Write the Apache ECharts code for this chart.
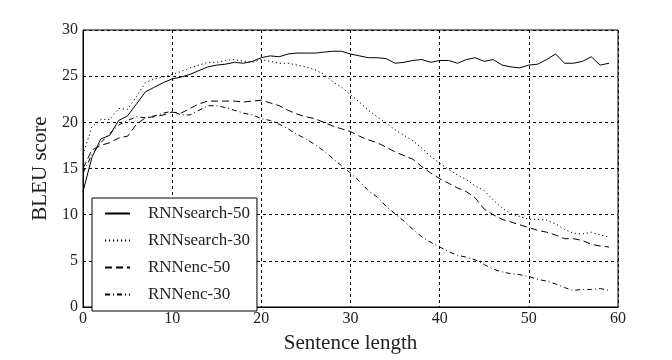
<!DOCTYPE html>
<html>
<head>
<meta charset="utf-8">
<script src="https://cdn.jsdelivr.net/npm/echarts@6/dist/echarts.min.js"></script>
<style>html,body{margin:0;padding:0;background:#fff;}#c{width:672px;height:360px;}</style>
</head>
<body>
<div id="c"></div>
<script>
const lengths = [0,1,2,3,4,5,6,7,8,9,10,11,12,13,14,15,16,17,18,19,20,21,22,23,24,25,26,27,28,29,30,31,32,33,34,35,36,37,38,39,40,41,42,43,44,45,46,47,48,49,50,51,52,53,54,55,56,57,58,59];
const seriesNames = ['RNNsearch-50','RNNsearch-30','RNNenc-50','RNNenc-30'];
const rnnsearch50 = [12.5,16.2,18.2,18.6,20.2,20.7,22.0,23.3,23.8,24.3,24.7,24.9,25.2,25.6,26.0,26.2,26.3,26.5,26.4,26.6,27.0,27.2,27.1,27.4,27.5,27.5,27.5,27.6,27.7,27.7,27.4,27.2,27.0,27.0,26.9,26.4,26.5,26.7,26.8,26.5,26.7,26.7,26.4,26.8,27.0,26.6,26.8,26.2,26.0,25.9,26.2,26.3,26.8,27.4,26.4,26.4,26.6,27.1,26.2,26.4];
const rnnsearch30 = [16.5,19.5,20.3,20.3,21.5,21.4,22.8,24.3,24.7,24.9,25.2,25.5,25.9,26.2,26.5,26.5,26.7,26.8,26.6,26.5,26.8,26.6,26.4,26.4,26.2,26.0,25.7,25.2,24.4,23.8,23.0,22.2,21.3,20.6,19.9,19.2,18.6,18.0,17.2,16.3,15.6,14.9,14.3,13.8,13.1,12.6,11.6,10.7,10.1,9.8,9.5,9.5,9.4,9.0,8.4,8.0,7.9,8.1,7.8,7.6];
const rnnenc50 = [15.0,17.0,17.5,17.8,18.3,18.5,19.8,20.5,20.6,20.8,21.1,21.0,21.5,22.0,22.3,22.3,22.3,22.3,22.2,22.3,22.4,22.1,21.8,21.3,20.9,20.6,20.4,20.0,19.6,19.3,19.0,18.5,18.1,17.8,17.3,16.8,16.4,16.0,15.2,14.5,13.9,13.4,12.9,12.5,11.8,10.6,10.0,9.5,9.2,8.9,8.6,8.3,8.1,7.8,7.4,7.4,7.2,6.8,6.6,6.5];
const rnnenc30 = [14.5,16.5,17.8,18.8,19.7,20.2,20.6,20.5,20.7,21.0,21.2,20.8,20.8,21.3,21.8,21.8,21.6,21.3,21.0,20.8,20.4,20.2,19.8,19.3,18.7,18.2,17.6,16.9,16.1,15.3,14.5,13.6,12.6,11.9,10.9,10.1,9.3,8.4,7.6,7.0,6.5,6.0,5.6,5.4,5.1,4.6,4.1,3.8,3.6,3.5,3.3,3.0,2.8,2.5,2.1,1.8,1.9,1.9,2.0,1.8];
const xTicks = [0,10,20,30,40,50,60];
const yTicks = [0,5,10,15,20,25,30];

const FONT = '"Liberation Serif", "DejaVu Serif", serif';
const pairs = arr => lengths.map((x, i) => [x, arr[i]]);
const styles = ['solid', [1.2, 2.8], [7, 4], [5, 3, 1, 3]];
const allData = [rnnsearch50, rnnsearch30, rnnenc50, rnnenc30];

const chart = echarts.init(document.getElementById('c'), null, {renderer: 'canvas'});
chart.setOption({
  animation: false,
  backgroundColor: '#fff',
  grid: {left: 83, right: 54, top: 30, bottom: 53, show: true, borderColor: '#000', borderWidth: 1, backgroundColor: 'transparent'},
  xAxis: {
    type: 'value', min: xTicks[0], max: xTicks[xTicks.length-1], interval: 10,
    name: 'Sentence length', nameLocation: 'middle', nameGap: 26,
    nameTextStyle: {fontFamily: FONT, fontSize: 21, color: '#222'},
    axisLine: {show: true, lineStyle: {color: '#000', width: 1}},
    axisTick: {show: false},
    axisLabel: {fontFamily: FONT, fontSize: 16, color: '#222', margin: 4},
    splitLine: {show: true, lineStyle: {color: '#000', type: [3, 3], width: 1}}
  },
  yAxis: {
    type: 'value', min: yTicks[0], max: yTicks[yTicks.length-1], interval: 5,
    name: 'BLEU score', nameLocation: 'middle', nameGap: 31, nameRotate: 90,
    nameTextStyle: {fontFamily: FONT, fontSize: 21, color: '#222'},
    axisLine: {show: true, lineStyle: {color: '#000', width: 1}},
    axisTick: {show: false},
    axisLabel: {fontFamily: FONT, fontSize: 16, color: '#222', margin: 5},
    splitLine: {show: true, lineStyle: {color: '#000', type: [3, 3], width: 1}}
  },
  legend: {
    orient: 'vertical', left: 92, top: 198,
    padding: [7, 7, 8, 12], itemGap: 10, itemWidth: 25, itemHeight: 14,
    backgroundColor: '#fff', borderColor: '#000', borderWidth: 1, borderRadius: 0,
    itemStyle: {opacity: 0},
    textStyle: {fontFamily: FONT, fontSize: 17, color: '#222', padding: [0, 0, 0, 13]},
    data: seriesNames
  },
  series: seriesNames.map((n, i) => ({
    name: n, type: 'line', data: pairs(allData[i]), symbol: 'none', smooth: false,
    lineStyle: {color: '#000', width: 1, type: styles[i]},
    itemStyle: {color: '#000'},
    z: 3
  }))
});
</script>
</body>
</html>
